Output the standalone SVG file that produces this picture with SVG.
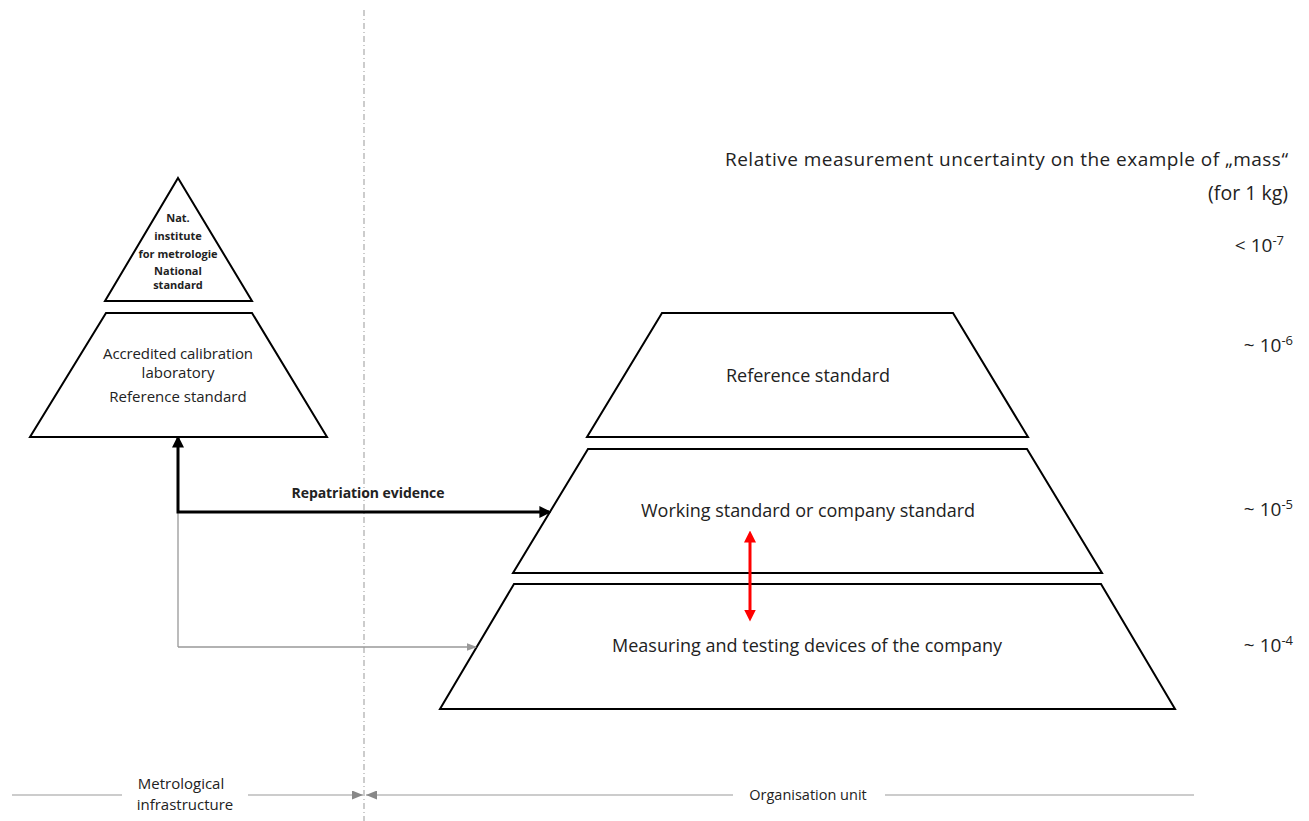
<svg xmlns="http://www.w3.org/2000/svg" width="1309" height="821" viewBox="0 0 1309 821">
<style>
.shape{fill:#fff;stroke:#000;stroke-width:2}
.t{font-family:"Open Sans","Liberation Sans",sans-serif;fill:#222}
.b{font-family:"Open Sans","Liberation Sans",sans-serif;font-weight:bold;fill:#222}
.ax{stroke:#999;stroke-width:1}
</style>
<defs>
<marker id="ab" markerWidth="4" markerHeight="4" refX="3.2" refY="2" orient="auto" markerUnits="strokeWidth"><path d="M0,0 L4,2 L0,4 z" fill="#000"/></marker>
<marker id="ag" markerWidth="8" markerHeight="6" refX="7" refY="3" orient="auto" markerUnits="strokeWidth"><path d="M0,0 L8,3 L0,6 z" fill="#999"/></marker>
<marker id="ax" markerWidth="11" markerHeight="9" refX="11" refY="4.5" orient="auto" markerUnits="userSpaceOnUse"><path d="M0,0 L11,4.5 L0,9 z" fill="#888"/></marker>
<marker id="ar" markerWidth="4" markerHeight="4" refX="2.5" refY="2" orient="auto" markerUnits="strokeWidth"><path d="M0,0 L4,2 L0,4 z" fill="#f00"/></marker>
<marker id="ars" markerWidth="4" markerHeight="4" refX="1.5" refY="2" orient="auto" markerUnits="strokeWidth"><path d="M4,0 L0,2 L4,4 z" fill="#f00"/></marker>
</defs>
<rect width="1309" height="821" fill="#fff"/>
<line x1="364" y1="10" x2="364" y2="821" stroke="#999" stroke-width="1" stroke-dasharray="6 3 1 3"/>
<g id="nat-institute">
<polygon class="shape" points="178,178 252,301 105,301"/>
<text class="b" font-size="11" text-anchor="middle"><tspan x="178" y="222">Nat.</tspan><tspan x="178" y="240">institute</tspan><tspan x="178" y="258">for metrologie</tspan><tspan x="178" y="275">National</tspan><tspan x="178" y="289">standard</tspan></text>
</g>
<g id="accredited-lab">
<polygon class="shape" points="106,313 252,313 327,437 30,437"/>
<text class="t" font-size="15" text-anchor="middle"><tspan x="178" y="359" textLength="150">Accredited calibration</tspan><tspan x="178" y="378">laboratory</tspan><tspan x="178" y="402">Reference standard</tspan></text>
</g>
<g id="reference-standard">
<polygon class="shape" points="662,313 953,313 1028,437 587,437"/>
<text class="t" font-size="18" text-anchor="middle" x="808" y="382" textLength="164">Reference standard</text>
</g>
<g id="working-standard">
<polygon class="shape" points="588,449 1027,449 1102,573 513,573"/>
<text class="t" font-size="18" text-anchor="middle" x="808" y="517" textLength="334">Working standard or company standard</text>
</g>
<g id="measuring-devices">
<polygon class="shape" points="514,584 1101,584 1175,709 440,709"/>
<text class="t" font-size="18" text-anchor="middle" x="807" y="652" textLength="390">Measuring and testing devices of the company</text>
</g>
<g id="connectors">
<polyline points="178,647 178,512 250,512" fill="none" stroke="#999" stroke-width="1.3"/>
<line x1="178" y1="647" x2="476" y2="647" stroke="#999" stroke-width="1.3" marker-end="url(#ag)"/>
<polyline points="250,512 178,512 178,438" fill="none" stroke="#000" stroke-width="3" marker-end="url(#ab)"/>
<line x1="250" y1="512" x2="549" y2="512" stroke="#000" stroke-width="3" marker-end="url(#ab)"/>
<line x1="750" y1="535" x2="750" y2="617" stroke="#f00" stroke-width="3" marker-start="url(#ars)" marker-end="url(#ar)"/>
<text class="b" font-size="14" text-anchor="middle" x="368" y="498" textLength="153">Repatriation evidence</text>
</g>
<g id="uncertainty-scale">
<text class="t" font-size="19" text-anchor="end" x="1288" y="166" textLength="563">Relative measurement uncertainty on the example of „mass“</text>
<text class="t" font-size="19.5" text-anchor="end" x="1288" y="200">(for 1 kg)</text>
<text class="t" font-size="19" text-anchor="end" x="1284" y="252">&lt; 10<tspan font-size="13" dy="-7">-7</tspan></text>
<text class="t" font-size="19" text-anchor="end" x="1293" y="352">~ 10<tspan font-size="13" dy="-7">-6</tspan></text>
<text class="t" font-size="19" text-anchor="end" x="1293" y="516">~ 10<tspan font-size="13" dy="-7">-5</tspan></text>
<text class="t" font-size="19" text-anchor="end" x="1293" y="652">~ 10<tspan font-size="13" dy="-7">-4</tspan></text>
</g>
<g id="bottom-axis">
<line class="ax" x1="12" y1="795" x2="122" y2="795"/>
<line class="ax" x1="248" y1="795" x2="363" y2="795" marker-end="url(#ax)"/>
<line class="ax" x1="733" y1="795" x2="366" y2="795" marker-end="url(#ax)"/>
<line class="ax" x1="885" y1="795" x2="1194" y2="795"/>
<text class="t" font-size="15" text-anchor="middle"><tspan x="181" y="789">Metrological</tspan><tspan x="185" y="810">infrastructure</tspan></text>
<text class="t" font-size="14.5" text-anchor="middle" x="808" y="800">Organisation unit</text>
</g>
</svg>
